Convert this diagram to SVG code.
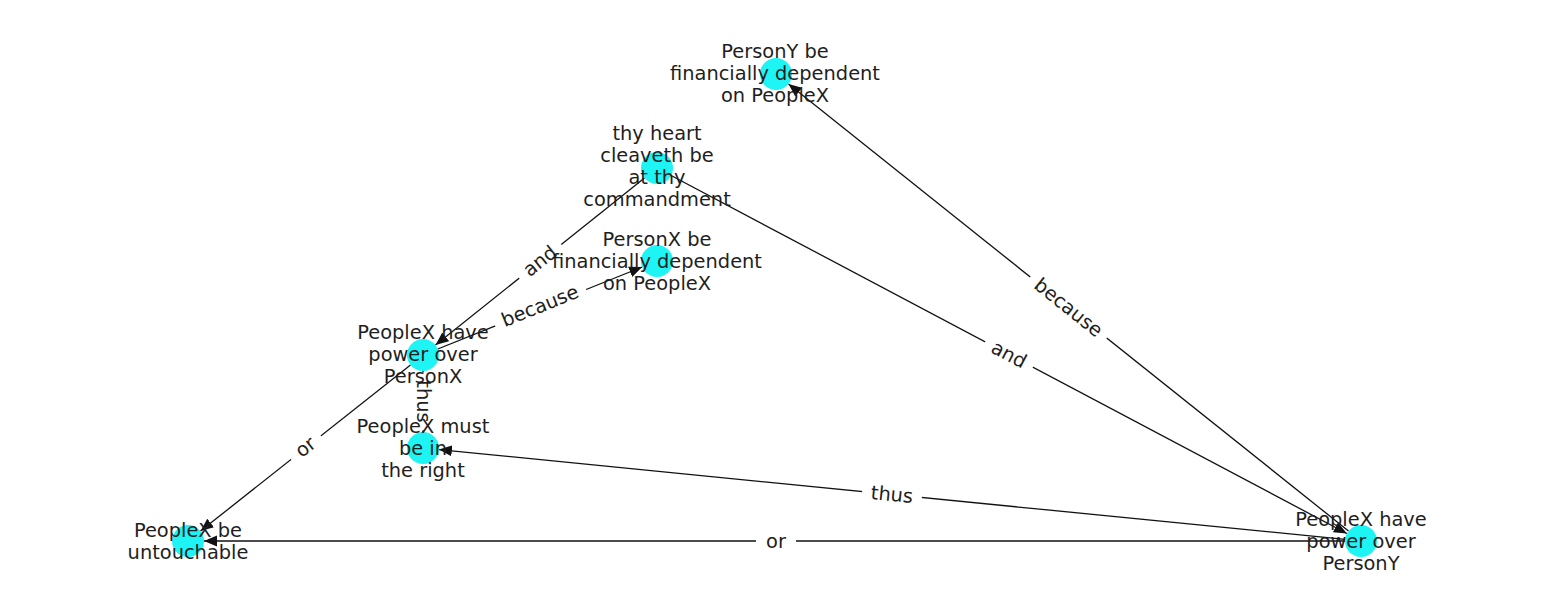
<svg xmlns="http://www.w3.org/2000/svg" width="1550" height="616" viewBox="0 0 1550 616">
<style>
.e{stroke:#111;stroke-width:1.3;fill:none;marker-end:url(#ah)}
.n{fill:#1ff4f4}
.t{font-family:"DejaVu Sans",sans-serif;font-size:19.4px;fill:#1e1e1e;text-anchor:middle;dominant-baseline:central}
.lb{fill:#fff}
</style>
<defs>
<marker id="ah" markerUnits="userSpaceOnUse" markerWidth="14" markerHeight="12" viewBox="0 -6 14 12" refX="13" refY="0" orient="auto">
<path d="M0,-5.5 L13,0 L0,5.5 z" fill="#111"/>
</marker>
</defs>
<rect width="1550" height="616" fill="#fff"/>
<g id="edges">
<line class="e" x1="644.5" y1="178" x2="435.5" y2="345"/>
<line class="e" x1="437.8" y1="349" x2="642.2" y2="267"/>
<line class="e" x1="423" y1="371" x2="423" y2="432"/>
<line class="e" x1="410.5" y1="364.9" x2="200.5" y2="531.1"/>
<line class="e" x1="671.1" y1="175.5" x2="1346.9" y2="533.5"/>
<line class="e" x1="1348.5" y1="531" x2="788.5" y2="84"/>
<line class="e" x1="1345.1" y1="539.4" x2="438.9" y2="449.6"/>
<line class="e" x1="1345" y1="541" x2="204" y2="541"/>
</g>
<g id="edge-labels">
<g transform="translate(540,261) rotate(-38.6)"><rect class="lb" x="-27" y="-13" width="54" height="26" rx="5"/><text class="t" x="0" y="0">and</text></g>
<g transform="translate(540,306) rotate(-21.9)"><rect class="lb" x="-49" y="-13" width="98" height="26" rx="5"/><text class="t" x="0" y="0">because</text></g>
<g transform="translate(423,401.5) rotate(90)"><rect class="lb" x="-29" y="-12" width="58" height="24" rx="5"/><text class="t" x="0" y="0">thus</text></g>
<g transform="translate(305.5,447) rotate(-38.4)"><rect class="lb" x="-19" y="-13" width="38" height="26" rx="5"/><text class="t" x="0" y="0">or</text></g>
<g transform="translate(1009,354.5) rotate(27.9)"><rect class="lb" x="-27" y="-13" width="54" height="26" rx="5"/><text class="t" x="0" y="0">and</text></g>
<g transform="translate(1068.5,307.5) rotate(38.6)"><rect class="lb" x="-49" y="-13" width="98" height="26" rx="5"/><text class="t" x="0" y="0">because</text></g>
<g transform="translate(892,494.5) rotate(5.66)"><rect class="lb" x="-30" y="-13" width="60" height="26" rx="5"/><text class="t" x="0" y="0">thus</text></g>
<g transform="translate(776,541)"><rect class="lb" x="-20" y="-13" width="40" height="26" rx="5"/><text class="t" x="0" y="0">or</text></g>
</g>
<g id="node-personY-dep"><circle class="n" cx="776" cy="74" r="16"/></g>
<g id="node-heart"><circle class="n" cx="657" cy="168" r="16"/></g>
<g id="node-personX-dep"><circle class="n" cx="657" cy="261" r="16"/></g>
<g id="node-power-X"><circle class="n" cx="423" cy="355" r="16"/></g>
<g id="node-right"><circle class="n" cx="423" cy="448" r="16"/></g>
<g id="node-untouchable"><circle class="n" cx="188" cy="541" r="16"/></g>
<g id="node-power-Y"><circle class="n" cx="1361" cy="541" r="16"/></g>
<g id="node-labels">
<text class="t"><tspan x="775" y="51">PersonY be</tspan><tspan x="775" y="73">financially dependent</tspan><tspan x="775" y="95">on PeopleX</tspan></text>
<text class="t"><tspan x="657" y="133">thy heart</tspan><tspan x="657" y="155">cleaveth be</tspan><tspan x="657" y="177">at thy</tspan><tspan x="657" y="199">commandment</tspan></text>
<text class="t"><tspan x="657" y="239">PersonX be</tspan><tspan x="657" y="261">financially dependent</tspan><tspan x="657" y="283">on PeopleX</tspan></text>
<text class="t"><tspan x="423" y="332">PeopleX have</tspan><tspan x="423" y="354">power over</tspan><tspan x="423" y="376">PersonX</tspan></text>
<text class="t"><tspan x="423" y="426">PeopleX must</tspan><tspan x="423" y="448">be in</tspan><tspan x="423" y="470">the right</tspan></text>
<text class="t"><tspan x="188" y="530">PeopleX be</tspan><tspan x="188" y="552">untouchable</tspan></text>
<text class="t"><tspan x="1361" y="519">PeopleX have</tspan><tspan x="1361" y="541">power over</tspan><tspan x="1361" y="563">PersonY</tspan></text>
</g>
</svg>
